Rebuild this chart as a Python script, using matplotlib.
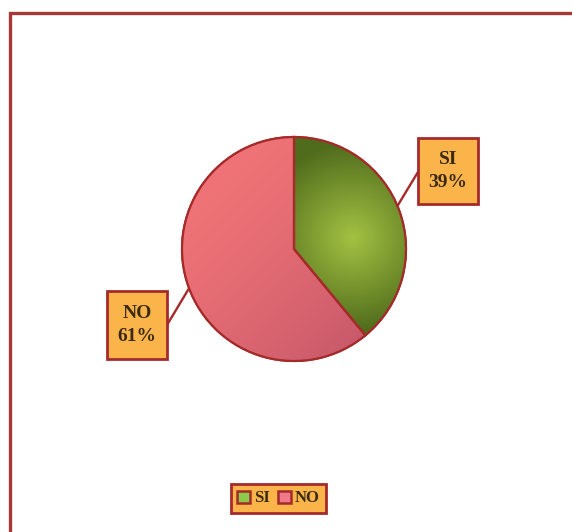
import numpy as np
import matplotlib
matplotlib.use("Agg")
import matplotlib.pyplot as plt
from matplotlib.patches import Rectangle, Patch, Wedge

# data
labels = ["SI", "NO"]
values = [39, 61]
colors = ["#86aa34", "#ec7075"]
edge = "#a52a2a"
box_fill = "#fbb44a"

W, H = 572, 532
fig = plt.figure(figsize=(W / 100, H / 100), dpi=100)
fig.patch.set_facecolor("white")
ax = fig.add_axes([0, 0, 1, 1])

cx, cy, r = 294, H - 249, 112
wedges, _ = ax.pie(values, colors=colors, startangle=90, counterclock=False,
                   center=(cx, cy), radius=r,
                   wedgeprops=dict(edgecolor=edge, linewidth=1.5))
ax.set_xlim(0, W)
ax.set_ylim(0, H)
ax.set_aspect("equal")
ax.axis("off")

# shading inside wedges
yy, xx = np.mgrid[cy + r:cy - r:-1, cx - r:cx + r]
d = np.hypot(xx - (cx + 58), yy - (cy + 12)) / 95.0
d = np.clip(d, 0, 1)
light = np.array([0.64, 0.76, 0.26])
dark = np.array([0.31, 0.42, 0.11])
green = light[None, None, :] * (1 - d[..., None]) + dark[None, None, :] * d[..., None]
im = ax.imshow(green, extent=(cx - r, cx + r, cy - r, cy + r), origin="upper", zorder=1.5)
im.set_clip_path(wedges[0])

t = ((xx - (cx - r)) + (cy + r - yy)) / (4.0 * r)
t = np.clip(t, 0, 1) ** 1.6
pl = np.array([0.95, 0.46, 0.47])
pd_ = np.array([0.74, 0.32, 0.40])
pink = pl[None, None, :] * (1 - t[..., None]) + pd_[None, None, :] * t[..., None]
im2 = ax.imshow(pink, extent=(cx - r, cx + r, cy - r, cy + r), origin="upper", zorder=1.5)
im2.set_clip_path(wedges[1])
for w in wedges:
    w.set_zorder(1)
    ax.add_patch(Wedge(w.center, w.r, w.theta1, w.theta2, facecolor="none",
                       edgecolor=edge, linewidth=1.6, zorder=2))

# outer frame
ax.plot([10, 10, W + 5], [-5, H - 13, H - 13], color="#a83838", lw=2.4,
        solid_joinstyle="miter", zorder=3)

# data labels with leader lines
font = dict(family="Liberation Serif", weight="bold", size=14, color="#3a2a10")
label_boxes = [(418, 138, 60, 66), (107, 291, 60, 68)]
leader = [[(398, 205), (418, 172)], [(188, 290), (167, 325)]]
for lab, val, (bx, by, bw, bh), ln in zip(labels, values, label_boxes, leader):
    ax.add_patch(Rectangle((bx, H - by - bh), bw, bh, facecolor=box_fill,
                           edgecolor=edge, lw=2, zorder=4))
    ax.text(bx + bw / 2, H - by - bh / 2, f"{lab}\n{val}%", ha="center", va="center",
            linespacing=1.45, zorder=5, **font)
    ax.plot([p[0] for p in ln], [H - p[1] for p in ln], color=edge, lw=1.7, zorder=3)

# legend
handles = [Patch(facecolor=c, edgecolor=edge, lw=1.8) for c in ["#8cc84a", "#f07a8a"]]
leg = fig.legend(handles, labels, loc="center", bbox_to_anchor=(278.5 / W, 1 - 498.5 / H),
                 ncol=2, frameon=True, fancybox=False, facecolor=box_fill,
                 edgecolor=edge, framealpha=1, handlelength=0.75, handleheight=0.75,
                 handletextpad=0.25, columnspacing=0.5, borderpad=0.4,
                 prop=dict(family="Liberation Serif", weight="bold", size=12))
leg.get_frame().set_linewidth(2)
for txt in leg.get_texts():
    txt.set_color("#3a2a10")

fig.savefig("out.png", dpi=100, facecolor="white")
